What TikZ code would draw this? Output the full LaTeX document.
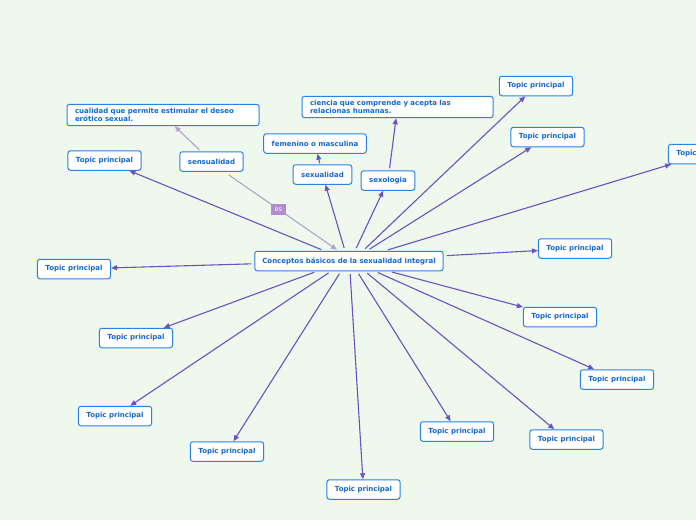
\documentclass[tikz,border=0pt]{standalone}
\usepackage{fontspec}
\setmainfont{DejaVu Sans}
\usetikzlibrary{arrows.meta,calc}
\definecolor{bgc}{HTML}{EFF8EC}
\definecolor{linec}{HTML}{6A52C2}
\definecolor{boxc}{HTML}{2A82E4}
\definecolor{txtc}{HTML}{1468CC}
\definecolor{softc}{HTML}{B3A2CC}
\definecolor{esc}{HTML}{B18DD0}
\tikzset{
  topic/.style={draw=boxc, line width=1pt, fill=white, rounded corners=2.5pt,
    text=txtc, font=\fontsize{7}{8}\selectfont\bfseries, inner xsep=8pt,
    minimum height=19.5pt, inner ysep=3pt},
  multi/.style={topic, align=left, text width=#1, inner ysep=4pt},
  conn/.style={draw=linec, line width=1.1pt, -{Triangle[length=6pt,width=5pt]}, shorten <=3pt},
  soft/.style={draw=softc, line width=1.1pt, -{Triangle[length=6pt,width=5pt]}},
  eslabel/.style={fill=esc, text=white, font=\fontsize{6.5}{7}\selectfont, inner sep=1.5pt, minimum width=15pt, minimum height=11pt}
}
\begin{document}
\begin{tikzpicture}[x=1pt,y=-1pt]
\fill[bgc] (0,0) rectangle (696,520);
\useasboundingbox (0,0) rectangle (696,520);

\node[topic, inner xsep=7.5pt] (c) at (349,261) {Conceptos básicos de la sexualidad integral};

\node[topic] (t1) at (104.5,160.5) {Topic principal};
\node[topic] (sen) at (211.5,161.5) {sensualidad};
\node[multi=176pt] (cua) at (163,115) {cualidad que permite estimular el deseo\\erótico sexual.};
\node[topic] (fem) at (315,143.5) {femenino o masculina};
\node[topic] (sexu) at (322.5,174.5) {sexualidad};
\node[multi=175pt] (cie) at (397.5,107) {ciencia que comprende y acepta las\\relacionas humanas.};
\node[topic] (sexo) at (388,180.5) {sexologia};
\node[topic] (t2) at (536,86) {Topic principal};
\node[topic] (t3) at (547.5,137) {Topic principal};
\node[topic] (t4) at (705,154) {Topic principal};
\node[topic] (t5) at (575,248.5) {Topic principal};
\node[topic] (t6) at (560,317) {Topic principal};
\node[topic] (t7) at (617,379.5) {Topic principal};
\node[topic] (t8) at (566.5,439.5) {Topic principal};
\node[topic] (t9) at (457,431.5) {Topic principal};
\node[topic] (t10) at (363.5,489.5) {Topic principal};
\node[topic] (t11) at (227,451.5) {Topic principal};
\node[topic] (t12) at (115,416) {Topic principal};
\node[topic] (t13) at (136,338) {Topic principal};
\node[topic] (t14) at (74,269) {Topic principal};

% soft links
\draw[soft] (sen.south) ++(17,3) coordinate (s1) -- ($(c.north)+(-12,-1)$) coordinate (s2);
\path (s1) -- (s2) node[eslabel, pos=0.46] (es) {es};
\draw[soft, shorten <=2pt] (sen) -- (cua);

% main connectors
\draw[conn] (c) -- (t1);
\draw[conn] ($(c.north)+(-4,0)$) -- (sexu);
\draw[conn, shorten <=1pt] (sexu) -- (fem);
\draw[conn] ($(c.north)+(6,0)$) -- (sexo);
\draw[conn, shorten <=2pt] (sexo) -- (cie);
\draw[conn] ($(c.north)+(14,0)$) -- (t2);
\draw[conn] ($(c.north)+(18,0)$) -- (t3);
\draw[conn] ($(c.north)+(36,0)$) -- (t4);
\draw[conn] (c) -- (t5);
\draw[conn] ($(c.south)+(40,0)$) -- (t6);
\draw[conn] ($(c.south)+(26,0)$) -- (t7);
\draw[conn] ($(c.south)+(16,0)$) -- (t8);
\draw[conn] ($(c.south)+(8,0)$) -- (t9);
\draw[conn] ($(c.south)+(1,0)$) -- (t10);
\draw[conn] ($(c.south)+(-8,0)$) -- (t11);
\draw[conn] ($(c.south)+(-18,0)$) -- (t12);
\draw[conn] ($(c.south)+(-32,0)$) -- (t13);
\draw[conn] (c) -- (t14);
\end{tikzpicture}
\end{document}
